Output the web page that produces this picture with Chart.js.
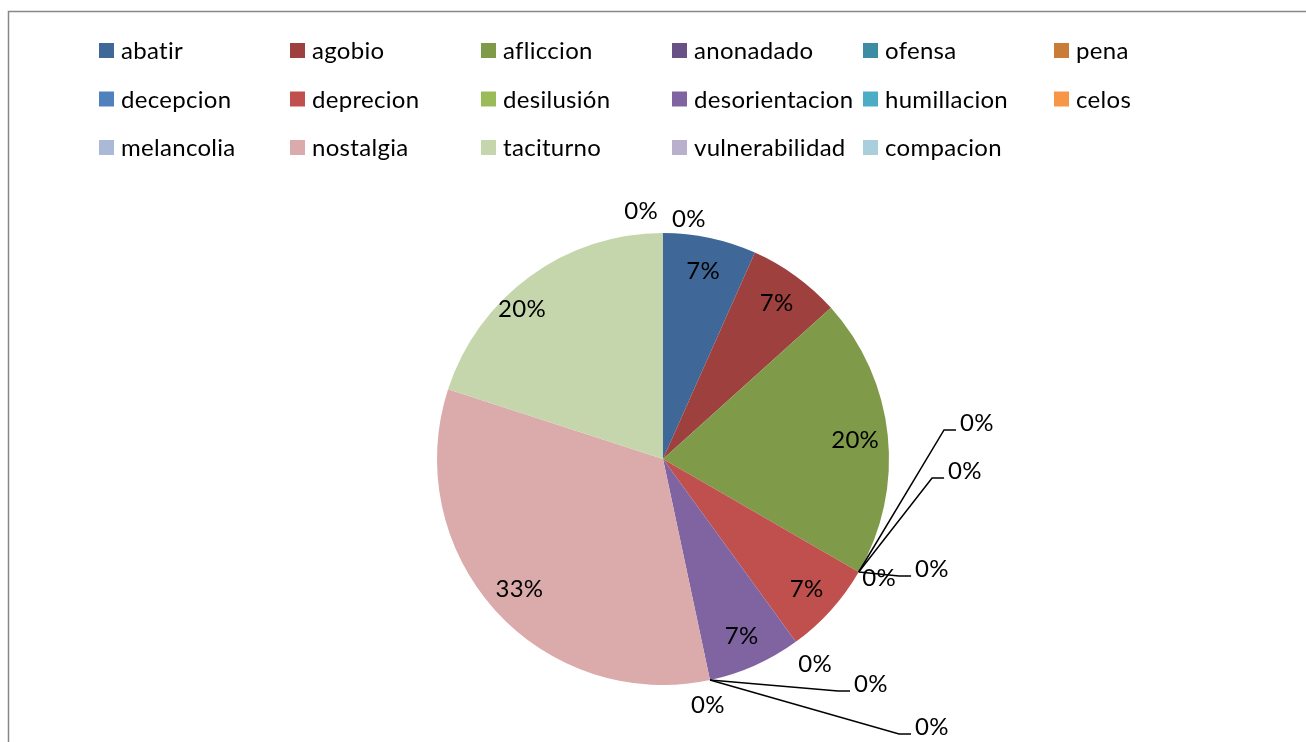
<!DOCTYPE html>
<html>
<head>
<meta charset="utf-8">
<script src="https://cdn.jsdelivr.net/npm/chart.js@4"></script>
<style>
html,body{margin:0;padding:0;background:#fff;}
#wrap{width:1306px;height:742px;position:relative;}
</style>
</head>
<body>
<div id="wrap"><canvas id="c" width="1306" height="742"></canvas></div>
<script>
// ---- data ----
const categories = ["abatir","agobio","afliccion","anonadado","ofensa","pena","decepcion","deprecion","desilusión","desorientacion","humillacion","celos","melancolia","nostalgia","taciturno","vulnerabilidad","compacion"];
const counts = [1,1,3,0,0,0,0,1,0,1,0,0,0,5,3,0,0];
const percentLabels = ["7%","7%","20%","0%","0%","0%","0%","7%","0%","7%","0%","0%","0%","33%","20%","0%","0%"];

// ---- style ----
const colors = ["#3F6899","#9D403E","#7F9A48","#695186","#3C8DA4","#CB7B38",
                "#4F81BD","#C0504D","#9BBB59","#8064A2","#4BACC6","#F79646",
                "#AAB9D8","#DAABAA","#C6D6AC","#B9B0CD","#A9CEDC"];
// label placement relative to pie centre, in radius units (null = inside on mid-angle)
const labelPlace = [null,null,null,
  {dx:1.389,dy:-0.164,line:true},{dx:1.336,dy:0.049,line:true},{dx:0.956,dy:0.522},{dx:1.190,dy:0.482,line:true},
  null,{dx:0.673,dy:0.903},null,
  {dx:0.920,dy:0.991,line:true},{dx:1.190,dy:1.181,line:true},{dx:0.199,dy:1.084},
  null,{dx:-0.624,dy:-0.668},{dx:-0.097,dy:-1.102},{dx:0.115,dy:-1.066}];
const FONT = "24px Lato, 'Liberation Sans', sans-serif";
const SPACING = '0.3px';

const framePlugin = {
  id:'frame',
  beforeDraw(chart){
    const ctx = chart.ctx;
    ctx.save();
    ctx.strokeStyle = '#878787';
    ctx.lineWidth = 1.5;
    ctx.strokeRect(8.5, 11.5, 1400, 800);
    ctx.restore();
  }
};

const legendPlugin = {
  id:'gridLegend',
  afterDraw(chart){
    const ctx = chart.ctx;
    const labels = chart.data.labels;
    const bg = chart.data.datasets[0].backgroundColor;
    ctx.save();
    ctx.font = FONT;
    ctx.letterSpacing = SPACING;
    ctx.textBaseline = 'middle';
    ctx.textAlign = 'left';
    labels.forEach((lab,i)=>{
      const col = i % 6, row = Math.floor(i/6);
      const x = 99 + col*191;
      const y = 50.5 + row*48.5;
      ctx.fillStyle = bg[i];
      ctx.fillRect(x, y-7.5, 15, 15);
      ctx.fillStyle = '#000';
      ctx.fillText(lab, x+22, y+1);
    });
    ctx.restore();
  }
};

const labelPlugin = {
  id:'sliceLabels',
  afterDatasetsDraw(chart){
    const ctx = chart.ctx;
    const meta = chart.getDatasetMeta(0);
    ctx.save();
    ctx.font = FONT;
    ctx.letterSpacing = SPACING;
    ctx.textBaseline = 'middle';
    ctx.textAlign = 'center';
    ctx.fillStyle = '#000';
    ctx.strokeStyle = '#000';
    ctx.lineWidth = 1.5;
    meta.data.forEach((arc,i)=>{
      const p = arc.getProps(['x','y','startAngle','endAngle','outerRadius'], true);
      const r = p.outerRadius;
      const mid = (p.startAngle + p.endAngle)/2;
      const pl = labelPlace[i];
      let tx, ty;
      if (pl){
        tx = p.x + pl.dx*r; ty = p.y + pl.dy*r;
        if (pl.line){
          const ax = p.x + Math.cos(mid)*r, ay = p.y + Math.sin(mid)*r;
          const w = ctx.measureText(percentLabels[i]).width;
          const left = tx - w/2;
          ctx.beginPath();
          ctx.moveTo(ax, ay);
          ctx.lineTo(left-16, ty+8);
          ctx.lineTo(left-4, ty+8);
          ctx.stroke();
        }
      } else {
        tx = p.x + Math.cos(mid)*r*0.855;
        ty = p.y + Math.sin(mid)*r*0.855;
      }
      ctx.fillText(percentLabels[i], tx, ty+1);
    });
    ctx.restore();
  }
};

new Chart(document.getElementById('c'), {
  type:'pie',
  data:{
    labels:categories,
    datasets:[{data:counts, backgroundColor:colors, borderWidth:0}]
  },
  options:{
    responsive:false,
    animation:false,
    layout:{padding:{top:233,bottom:57,left:437,right:417}},
    plugins:{legend:{display:false},tooltip:{enabled:false}}
  },
  plugins:[framePlugin,legendPlugin,labelPlugin]
});
</script>
</body>
</html>
